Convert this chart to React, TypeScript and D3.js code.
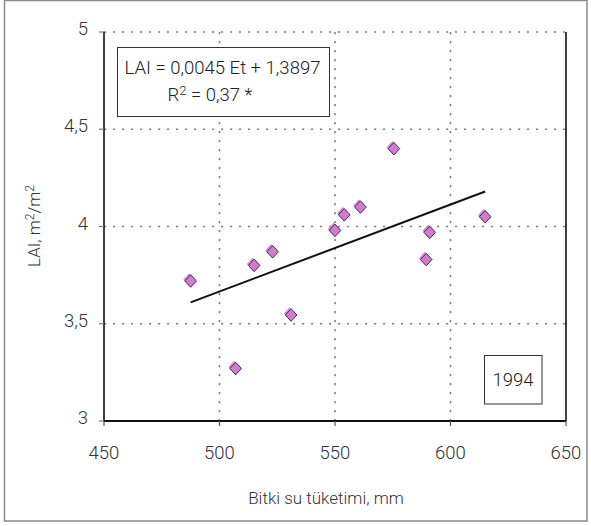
import React from "react";
import * as d3 from "d3";

const W = 591;
const H = 526;

const etValues = [487.5, 507, 515, 523, 531, 550, 554, 561, 575.5, 589.5, 591, 615];
const laiValues = [3.72, 3.27, 3.8, 3.87, 3.545, 3.98, 4.06, 4.1, 4.4, 3.83, 3.97, 4.05];
const trendX = [487.5, 615];
const trendY = [3.61, 4.18];
const xTicks = [450, 500, 550, 600, 650];
const yTicks = [3, 3.5, 4, 4.5, 5];
const yTickLabels = ["3", "3,5", "4", "4,5", "5"];
const xGrid = [500, 550, 600];
const yGrid = [3.5, 4, 4.5, 5];

const FONT = "Roboto, 'Liberation Sans', sans-serif";

export default function App() {
  const x = d3.scaleLinear().domain([450, 650]).range([104, 566]);
  const y = d3.scaleLinear().domain([3, 5]).range([421, 32]);
  const line = d3
    .line<number>()
    .x((d, i) => x(trendX[i]))
    .y((d, i) => y(trendY[i]));
  const diamond = (cx: number, cy: number, r: number) =>
    `M${cx},${cy - r - 0.5}L${cx + r},${cy}L${cx},${cy + r + 0.5}L${cx - r},${cy}Z`;

  return (
    <svg
      width={W}
      height={H}
      style={{ position: "absolute", left: 0, top: 0, background: "#fff" }}
      fontFamily={FONT}
      fontWeight={300}
    >
      <rect x={4.5} y={0.5} width={582.5} height={520.5} fill="#fff" stroke="#8a8a8a" strokeWidth={1.5} />
      {/* gridlines */}
      {yGrid.map((v) => (
        <line key={"gy" + v} x1={x(450)} x2={x(650)} y1={y(v)} y2={y(v)} stroke="#808080" strokeWidth={1.6} strokeDasharray="2.2,6.8" />
      ))}
      {xGrid.map((v) => (
        <line key={"gx" + v} x1={x(v)} x2={x(v)} y1={y(5)} y2={y(3)} stroke="#808080" strokeWidth={1.6} strokeDasharray="2.2,6.8" />
      ))}
      {/* axes */}
      <line x1={x(450)} x2={x(450)} y1={y(5)} y2={y(3)} stroke="#111" strokeWidth={1.6} />
      <line x1={x(650)} x2={x(650)} y1={y(5)} y2={y(3)} stroke="#111" strokeWidth={1.6} />
      <line x1={x(450)} x2={x(650)} y1={y(3)} y2={y(3)} stroke="#111" strokeWidth={2} />
      {yTicks.map((v, i) => (
        <g key={"yt" + v}>
          <line x1={x(450) - 5} x2={x(450)} y1={y(v)} y2={y(v)} stroke="#777" strokeWidth={1.2} />
          <text x={88} y={y(v) - 3} textAnchor="end" dominantBaseline="central" fontSize={18.5} fill="#333">
            {yTickLabels[i]}
          </text>
        </g>
      ))}
      {xTicks.map((v) => (
        <g key={"xt" + v}>
          <line x1={x(v)} x2={x(v)} y1={y(3)} y2={y(3) + 5} stroke="#555" strokeWidth={1.2} />
          <text x={x(v)} y={459} textAnchor="middle" fontSize={18.5} fill="#333">
            {v}
          </text>
        </g>
      ))}
      {/* trend line */}
      <path d={line(trendX) || ""} fill="none" stroke="#111" strokeWidth={2} />
      {/* points */}
      {etValues.map((v, i) => {
        const cx = x(v);
        const cy = y(laiValues[i]);
        return (
          <g key={"p" + i}>
            <path d={diamond(cx - 1.5, cy - 1.5, 5.8)} fill="#e08ad6" />
            <path d={diamond(cx, cy, 5.8)} fill="#d37ccb" stroke="#333366" strokeWidth={1} />
          </g>
        );
      })}
      {/* equation box */}
      <rect x={117.5} y={47.5} width={212} height={69} fill="#fff" stroke="#333" strokeWidth={1} />
      <text x={222.5} y={74} textAnchor="middle" fontSize={18.5} fill="#222">
        LAI = 0,0045 Et + 1,3897
      </text>
      <text x={210} y={101} textAnchor="middle" fontSize={18.5} fill="#222">
        R<tspan dy={-6} fontSize={13}>2</tspan><tspan dy={6}> = 0,37 *</tspan>
      </text>
      {/* year box */}
      <rect x={484.5} y={355.5} width={57.5} height={48.5} fill="#fff" stroke="#333" strokeWidth={1} />
      <text x={513} y={386} textAnchor="middle" fontSize={18.5} fill="#222">
        1994
      </text>
      {/* axis titles */}
      <text x={326} y={504} textAnchor="middle" fontSize={17} fill="#333">
        Bitki su tüketimi, mm
      </text>
      <text transform="translate(40,226) rotate(-90)" textAnchor="middle" fontSize={17} fill="#333">
        LAI, m<tspan dy={-6} fontSize={12}>2</tspan><tspan dy={6}>/m</tspan><tspan dy={-6} fontSize={12}>2</tspan>
      </text>
    </svg>
  );
}
